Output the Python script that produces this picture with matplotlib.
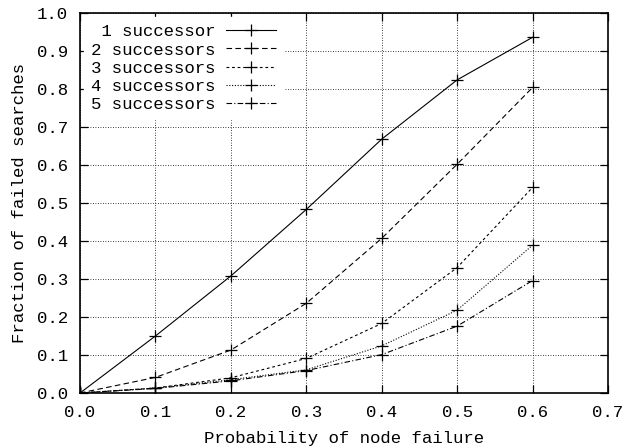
import numpy as np
import matplotlib
matplotlib.use("Agg")
import matplotlib.pyplot as plt

plt.rcParams['font.family'] = ['Liberation Mono', 'DejaVu Sans Mono']

prob = [0.0, 0.1, 0.2, 0.3, 0.4, 0.5, 0.6]
succ1 = [0.0, 0.150, 0.308, 0.483, 0.668, 0.824, 0.936]
succ2 = [0.0, 0.041, 0.113, 0.236, 0.407, 0.602, 0.804]
succ3 = [0.0, 0.013, 0.040, 0.091, 0.183, 0.330, 0.541]
succ4 = [0.0, 0.013, 0.035, 0.061, 0.124, 0.218, 0.389]
succ5 = [0.0, 0.012, 0.032, 0.059, 0.101, 0.176, 0.296]
labels = [" 1 successor", "2 successors", "3 successors", "4 successors", "5 successors"]

styles = ['-', (0, (5, 3)), (0, (2.5, 2.5)), (0, (1, 1.5)), (0, (5, 2, 1, 2))]

fig = plt.figure(figsize=(6.24, 4.48), dpi=100)
ax = fig.add_axes([80 / 624, 55 / 448, 528 / 624, 380 / 448])

for ys, lab, ls in zip([succ1, succ2, succ3, succ4, succ5], labels, styles):
    ax.plot(prob, ys, color='black', linestyle=ls, linewidth=0.8,
            marker='+', markersize=9, markeredgewidth=0.9, label=lab)

ax.set_xlim(0, 0.7)
ax.set_ylim(0, 1.0)
ax.set_xticks(np.arange(0, 0.71, 0.1))
ax.set_yticks(np.arange(0, 1.01, 0.1))
ax.xaxis.set_major_formatter(matplotlib.ticker.FormatStrFormatter('%.1f'))
ax.yaxis.set_major_formatter(matplotlib.ticker.FormatStrFormatter('%.1f'))
ax.tick_params(direction='in', length=6, width=0.9, top=True, right=True,
               labelsize=12.5, colors='black', pad=8.5)
ax.grid(True, color='black', linestyle=(0, (1, 2)), linewidth=0.6)
ax.set_axisbelow(True)
for sp in ax.spines.values():
    sp.set_linewidth(1.2)

ax.set_xlabel("Probability of node failure", fontsize=12.5, labelpad=8)
ax.set_ylabel("Fraction of failed searches", fontsize=12.5, labelpad=7)

leg = ax.legend(loc='upper left', markerfirst=False, frameon=True,
                fancybox=False, edgecolor='white', facecolor='white',
                framealpha=1, fontsize=12.5, handlelength=2.85,
                handletextpad=0.6, labelspacing=0.17, borderpad=0.4,
                borderaxespad=0.25)

fig.savefig("out.png", dpi=100)
